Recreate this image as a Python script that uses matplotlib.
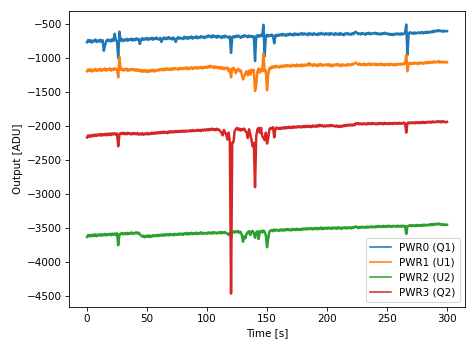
import numpy as np
import matplotlib.pyplot as plt

# one reading per second over the 5 minute run
time_s = np.arange(0, 301)

pwr0_q1 = [
    -775, -740, -768, -745, -780, -750, -762, -735, -772, -748, -765, -738, -770, -745, -900, -820, -760, -735, -758, -740,
    -762, -730, -755, -650, -740, -765, -1010, -620, -750, -728, -760, -735, -748, -725, -755, -730, -742, -722, -750, -728,
    -745, -718, -738, -725, -800, -740, -715, -742, -720, -735, -712, -740, -718, -732, -708, -738, -715, -730, -705, -728,
    -735, -710, -770, -725, -705, -730, -708, -728, -700, -722, -712, -735, -705, -728, -770, -715, -700, -725, -708, -718,
    -728, -695, -720, -700, -725, -698, -715, -690, -722, -702, -712, -688, -718, -695, -710, -685, -705, -692, -715, -690,
    -700, -675, -695, -680, -705, -672, -698, -685, -708, -678, -700, -690, -712, -685, -705, -678, -700, -692, -710, -690,
    -930, -700, -688, -705, -680, -698, -675, -692, -710, -684, -698, -672, -690, -680, -702, -676, -695, -682, -700, -688,
    -1050, -690, -672, -695, -668, -688, -675, -520, -980, -685, -665, -690, -672, -682, -662, -688, -790, -670, -685, -662,
    -680, -658, -676, -652, -674, -660, -682, -655, -670, -648, -668, -656, -675, -645, -665, -652, -670, -648, -662, -640,
    -665, -645, -660, -650, -672, -640, -662, -648, -668, -642, -660, -652, -670, -645, -662, -638, -658, -648, -665, -642,
    -660, -645, -668, -640, -655, -650, -670, -642, -660, -648, -668, -640, -662, -652, -672, -645, -658, -640, -662, -650,
    -665, -642, -658, -630, -622, -640, -655, -645, -662, -638, -655, -648, -665, -640, -652, -635, -660, -645, -650, -640,
    -638, -655, -642, -660, -648, -662, -640, -652, -635, -650, -645, -662, -648, -668, -655, -670, -650, -662, -645, -658,
    -648, -665, -642, -660, -650, -640, -515, -960, -650, -628, -645, -635, -652, -630, -648, -640, -628, -645, -632, -625,
    -645, -628, -640, -620, -638, -622, -632, -615, -628, -605, -620, -612, -598, -615, -600, -612, -620, -605, -618, -610,
    -612,
]

pwr1_u1 = [
    -1200, -1172, -1195, -1170, -1205, -1178, -1190, -1165, -1198, -1175, -1188, -1162, -1195, -1170, -1185, -1160, -1192, -1168, -1180, -1158,
    -1190, -1165, -1182, -1155, -1175, -1168, -1290, -990, -1180, -1160, -1190, -1168, -1185, -1160, -1195, -1172, -1188, -1165, -1182, -1170,
    -1192, -1170, -1195, -1175, -1200, -1180, -1210, -1185, -1205, -1182, -1212, -1188, -1208, -1180, -1200, -1178, -1205, -1182, -1195, -1172,
    -1190, -1168, -1185, -1165, -1188, -1160, -1180, -1158, -1178, -1162, -1182, -1155, -1175, -1152, -1170, -1160, -1178, -1150, -1168, -1155,
    -1170, -1148, -1165, -1142, -1172, -1150, -1160, -1140, -1168, -1145, -1158, -1138, -1162, -1142, -1155, -1135, -1160, -1140, -1150, -1132,
    -1150, -1125, -1145, -1120, -1142, -1130, -1155, -1128, -1148, -1135, -1160, -1138, -1165, -1142, -1170, -1150, -1160, -1145, -1200, -1165,
    -1290, -1160, -1150, -1175, -1230, -1180, -1165, -1200, -1185, -1250, -1320, -1270, -1230, -1200, -1260, -1190, -1250, -1175, -1210, -1180,
    -1490, -1400, -1200, -1160, -1220, -1170, -1200, -940, -1200, -1190, -1480, -1250, -1150, -1165, -1130, -1150, -1125, -1145, -1120, -1138,
    -1145, -1120, -1138, -1115, -1135, -1112, -1130, -1108, -1128, -1115, -1132, -1105, -1125, -1110, -1130, -1102, -1122, -1108, -1128, -1100,
    -1125, -1102, -1118, -1098, -1115, -1080, -1112, -1100, -1122, -1095, -1118, -1102, -1125, -1098, -1115, -1092, -1120, -1105, -1112, -1098,
    -1115, -1095, -1120, -1100, -1128, -1105, -1118, -1098, -1112, -1092, -1120, -1102, -1125, -1098, -1115, -1105, -1120, -1095, -1110, -1100,
    -1112, -1092, -1100, -1080, -1075, -1090, -1105, -1085, -1110, -1095, -1108, -1088, -1112, -1098, -1105, -1085, -1110, -1092, -1102, -1090,
    -1108, -1090, -1112, -1095, -1105, -1088, -1110, -1098, -1115, -1092, -1108, -1095, -1112, -1090, -1105, -1098, -1115, -1092, -1110, -1095,
    -1100, -1088, -1105, -1085, -1098, -1082, -960, -1200, -1090, -1075, -1095, -1080, -1092, -1072, -1088, -1078, -1095, -1070, -1085, -1075,
    -1090, -1070, -1085, -1065, -1082, -1060, -1078, -1062, -1075, -1055, -1072, -1060, -1068, -1050, -1075, -1058, -1070, -1060, -1072, -1062,
    -1068,
]

pwr2_u2 = [
    -3628, -3600, -3622, -3598, -3620, -3595, -3615, -3590, -3618, -3595, -3610, -3588, -3612, -3590, -3605, -3585, -3608, -3588, -3600, -3582,
    -3605, -3580, -3598, -3578, -3600, -3575, -3750, -3590, -3585, -3570, -3592, -3575, -3588, -3568, -3590, -3572, -3580, -3562, -3585, -3570,
    -3575, -3560, -3580, -3565, -3590, -3605, -3625, -3610, -3635, -3612, -3628, -3605, -3632, -3610, -3625, -3602, -3620, -3605, -3615, -3598,
    -3615, -3595, -3610, -3592, -3612, -3590, -3605, -3588, -3608, -3585, -3602, -3590, -3605, -3582, -3600, -3585, -3598, -3578, -3595, -3580,
    -3598, -3575, -3590, -3570, -3595, -3572, -3588, -3568, -3590, -3575, -3585, -3565, -3588, -3570, -3582, -3560, -3585, -3568, -3578, -3572,
    -3582, -3560, -3578, -3565, -3582, -3558, -3575, -3562, -3580, -3565, -3572, -3555, -3578, -3560, -3570, -3558, -3575, -3580, -3600, -3565,
    -3650, -3560, -3548, -3565, -3545, -3560, -3542, -3570, -3555, -3600, -3700, -3620, -3650, -3580, -3560, -3545, -3600, -3550, -3540, -3580,
    -3640, -3560, -3545, -3660, -3550, -3540, -3565, -3535, -3555, -3600, -3780, -3650, -3550, -3535, -3528, -3545, -3520, -3538, -3522, -3535,
    -3540, -3518, -3535, -3520, -3538, -3515, -3532, -3512, -3530, -3518, -3535, -3510, -3528, -3512, -3530, -3508, -3525, -3515, -3528, -3505,
    -3522, -3505, -3520, -3500, -3518, -3502, -3515, -3498, -3520, -3500, -3512, -3495, -3518, -3498, -3510, -3490, -3515, -3495, -3508, -3492,
    -3510, -3490, -3505, -3495, -3512, -3488, -3505, -3492, -3510, -3485, -3505, -3492, -3512, -3490, -3502, -3485, -3508, -3490, -3500, -3488,
    -3505, -3485, -3498, -3480, -3475, -3490, -3498, -3482, -3495, -3478, -3490, -3482, -3495, -3475, -3492, -3480, -3488, -3472, -3490, -3478,
    -3488, -3470, -3485, -3468, -3482, -3472, -3485, -3465, -3480, -3470, -3482, -3462, -3478, -3468, -3482, -3465, -3475, -3468, -3480, -3462,
    -3478, -3465, -3480, -3462, -3475, -3468, -3585, -3470, -3465, -3458, -3472, -3455, -3468, -3460, -3470, -3452, -3465, -3458, -3468, -3450,
    -3465, -3448, -3462, -3452, -3460, -3445, -3458, -3440, -3455, -3438, -3450, -3435, -3445, -3430, -3448, -3440, -3452, -3445, -3455, -3448,
    -3450,
]

pwr3_q2 = [
    -2170, -2140, -2162, -2138, -2158, -2132, -2150, -2128, -2148, -2125, -2142, -2120, -2145, -2122, -2138, -2118, -2140, -2115, -2135, -2112,
    -2135, -2110, -2128, -2108, -2130, -2112, -2300, -2125, -2105, -2120, -2100, -2122, -2108, -2125, -2102, -2118, -2110, -2128, -2105, -2122,
    -2108, -2125, -2105, -2130, -2112, -2128, -2108, -2132, -2112, -2125, -2105, -2128, -2110, -2122, -2100, -2118, -2098, -2115, -2095, -2112,
    -2092, -2110, -2088, -2105, -2085, -2102, -2090, -2108, -2082, -2100, -2078, -2098, -2080, -2095, -2075, -2092, -2078, -2090, -2072, -2088,
    -2070, -2088, -2068, -2085, -2072, -2082, -2065, -2080, -2062, -2078, -2068, -2075, -2058, -2072, -2060, -2078, -2055, -2070, -2052, -2068,
    -2050, -2068, -2045, -2062, -2040, -2058, -2048, -2065, -2042, -2060, -2055, -2080, -2100, -2140, -2060, -2090, -2130, -2200, -2100, -2230,
    -4460, -2250, -2240, -2080, -2050, -2030, -2060, -2040, -2070, -2045, -2060, -2040, -2080, -2100, -2180, -2050, -2120, -2200, -2300, -2250,
    -2900, -2150, -2050, -2030, -2100, -2030, -2150, -2180, -2210, -2100, -2260, -2180, -2050, -2030, -2045, -2020, -2170, -2040, -2025, -2042,
    -2030, -2048, -2025, -2042, -2020, -2040, -2018, -2035, -2012, -2030, -2015, -2032, -2008, -2028, -2010, -2025, -2005, -2022, -2008, -2025,
    -2002, -2020, -2000, -2018, -1998, -2015, -2002, -2020, -1995, -2012, -1998, -2015, -1990, -2010, -1985, -2005, -1992, -2012, -1995, -2010,
    -1992, -2008, -1990, -2005, -1988, -2005, -1998, -2012, -1995, -2015, -2000, -2018, -1998, -2012, -1990, -2005, -1985, -2000, -1980, -1995,
    -1982, -1998, -1978, -1992, -1962, -1975, -1960, -1978, -1965, -1980, -1962, -1978, -1965, -1982, -1960, -1975, -1962, -1978, -1958, -1972,
    -1965, -1980, -1962, -1975, -1958, -1972, -1960, -1978, -1955, -1970, -1962, -1975, -1958, -1972, -1960, -1975, -1955, -1968, -1958, -1972,
    -1955, -1970, -1958, -1968, -1952, -1965, -2100, -1960, -1950, -1965, -1948, -1962, -1950, -1965, -1945, -1960, -1948, -1962, -1945, -1958,
    -1942, -1958, -1945, -1955, -1940, -1952, -1938, -1955, -1935, -1950, -1938, -1948, -1932, -1945, -1935, -1950, -1930, -1945, -1938, -1950,
    -1942,
]

fig = plt.figure(figsize=(6.4, 4.666), dpi=74.375)
ax = fig.add_subplot(111)
fig.subplots_adjust(left=0.145, right=0.977, bottom=0.115, top=0.968)

# thicker strokes so the noisy traces read as bands
lw = 2.4
ax.plot(time_s, pwr0_q1, lw=lw, label="PWR0 (Q1)")
ax.plot(time_s, pwr1_u1, lw=lw, label="PWR1 (U1)")
ax.plot(time_s, pwr2_u2, lw=lw, label="PWR2 (U2)")
ax.plot(time_s, pwr3_q2, lw=lw, label="PWR3 (Q2)")

ax.set_xlabel("Time [s]")
ax.set_ylabel("Output [ADU]")
leg = ax.legend(loc="lower right")
for line in leg.get_lines():
    line.set_linewidth(1.5)

fig.savefig("out.png", dpi=74.375)
